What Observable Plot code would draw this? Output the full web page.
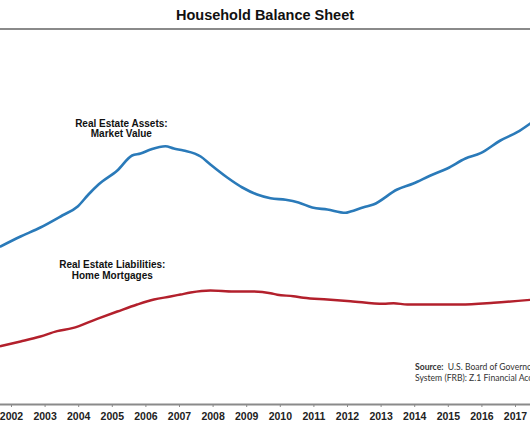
<!DOCTYPE html>
<html>
<head>
<meta charset="utf-8">
<script src="https://cdn.jsdelivr.net/npm/d3@7"></script>
<script src="https://cdn.jsdelivr.net/npm/@observablehq/plot@0.6"></script>
<style>
  html, body { margin: 0; padding: 0; background: #fff; overflow: hidden; }
  #wrap { position: relative; width: 530px; height: 442px; }
  #title { height: 28px; border-bottom: 2px solid #8a8a8a; text-align: center;
    font: bold 14.5px "Liberation Sans", Arial, sans-serif; line-height: 30px; color: #111; }
  #source { position: absolute; left: 415px; top: 362px; white-space: nowrap;
    font: 8.6px Lato, "Open Sans", sans-serif; line-height: 11px; color: #333; }
</style>
</head>
<body>
<div id="wrap">
  <div id="title">Household Balance Sheet</div>
  <div id="chart"></div>
  <div id="source"><b>Source:</b>&nbsp; U.S. Board of Governors of the Federal Reserve<br>System (FRB): Z.1 Financial Accounts of the United States</div>
</div>
<script>
// Real estate assets: market value (trillions of dollars)
const assetYears = [2001.67, 2002.27, 2002.86, 2003.51, 2003.97, 2004.29, 2004.59, 2005.15, 2005.59, 2005.84, 2006.14, 2006.58, 2006.83, 2007.12, 2007.63, 2007.92, 2008.42, 2008.87, 2009.31, 2009.71, 2010.16, 2010.54, 2010.95, 2011.40, 2011.94, 2012.09, 2012.48, 2012.77, 2013.48, 2013.96, 2014.47, 2014.97, 2015.51, 2015.96, 2016.55, 2017.05, 2017.45];
const assetValues = [15.0, 16.0, 16.9, 18.1, 19.0, 20.2, 21.2, 22.6, 24.1, 24.3, 24.7, 25.03, 24.8, 24.6, 24.0, 23.2, 21.9, 20.9, 20.2, 19.83, 19.67, 19.4, 18.9, 18.7, 18.37, 18.5, 18.93, 19.2, 20.7, 21.3, 22.1, 22.8, 23.8, 24.33, 25.6, 26.43, 27.33];

// Real estate liabilities: home mortgages (trillions of dollars)
const mortgageYears = [2001.67, 2002.27, 2002.86, 2003.36, 2003.81, 2004.55, 2005.15, 2005.74, 2006.24, 2006.73, 2007.03, 2007.33, 2007.92, 2008.61, 2009.20, 2009.71, 2009.91, 2010.39, 2010.69, 2011.40, 2012.09, 2013.07, 2013.37, 2013.78, 2015.36, 2016.35, 2017.45];
const mortgageValues = [5.03, 5.5, 6.0, 6.53, 6.83, 7.77, 8.5, 9.2, 9.7, 10.0, 10.2, 10.4, 10.6, 10.5, 10.5, 10.33, 10.17, 10.03, 9.87, 9.7, 9.53, 9.27, 9.33, 9.2, 9.2, 9.37, 9.67];

// Axis tick years
const tickYears = [2002, 2003, 2004, 2005, 2006, 2007, 2008, 2009, 2010, 2011, 2012, 2013, 2014, 2015, 2016, 2017];

// Annotations
const labelTexts = ["Real Estate Assets:\nMarket Value", "Real Estate Liabilities:\nHome Mortgages"];
const labelYears = [2005.27, 2005.0];
const labelValues = [26.8, 12.65];

const assets = assetYears.map((x, i) => ({x, v: assetValues[i]}));
const mortgages = mortgageYears.map((x, i) => ({x, v: mortgageValues[i]}));
const labels = labelTexts.map((t, i) => ({t, x: labelYears[i], v: labelValues[i]}));

const yMin = -0.8, yMax = 36.6;

const chart = Plot.plot({
  width: 530,
  height: 412,
  marginLeft: 0,
  marginRight: 0,
  marginTop: 0,
  marginBottom: 38,
  style: {background: "white", overflow: "hidden"},
  x: {domain: [2001.673, 2017.446]},
  y: {domain: [yMin, yMax], axis: null},
  marks: [
    Plot.line(assets, {x: "x", y: "v", stroke: "#2a7ab9", strokeWidth: 2.6, curve: "monotone-x"}),
    Plot.line(mortgages, {x: "x", y: "v", stroke: "#b3202c", strokeWidth: 2.4, curve: "monotone-x"}),
    Plot.text(labels, {x: "x", y: "v", text: "t", fontSize: 10, fontWeight: "bold",
      fontFamily: "Liberation Sans, Arial, sans-serif", fill: "#111", lineHeight: 1.08}),
    Plot.ruleY([yMin], {stroke: "#8a8a8a", strokeWidth: 2}),
    Plot.axisX({ticks: tickYears, tickFormat: d => String(d), tickSize: 3, tickPadding: 5,
      stroke: "#8a8a8a", fontSize: 10.5, fontWeight: "bold",
      fontFamily: "Liberation Sans, Arial, sans-serif", fill: "#222", label: null})
  ]
});
document.getElementById("chart").appendChild(chart);
</script>
</body>
</html>
